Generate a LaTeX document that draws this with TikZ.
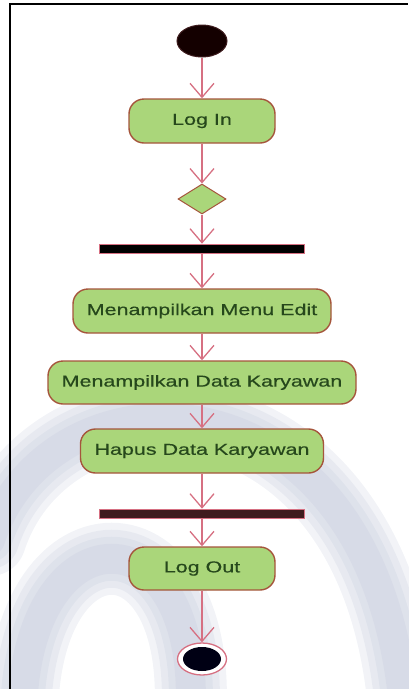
\documentclass[tikz,border=0pt]{standalone}
\usepackage{fontspec}
\newfontfamily\actfont[FakeStretch=1.36, FakeBold=0.4]{Liberation Sans}
\usepackage{xcolor}
\definecolor{colAct}{RGB}{170,214,122}
\definecolor{colActLine}{RGB}{165,85,60}
\definecolor{colFlow}{RGB}{214,112,130}
\definecolor{colText}{RGB}{38,72,28}
\definecolor{colBar}{RGB}{62,28,30}
\definecolor{colMark}{RGB}{188,195,214}
\usetikzlibrary{arrows.meta, positioning, shapes.geometric}

\begin{document}
\begin{tikzpicture}[x=1pt, y=-1pt,
	act/.style={draw=colActLine, line width=1.4pt, fill=colAct, rounded corners=15pt,
		minimum height=44pt, inner sep=0pt, text=colText,
		font=\actfont\fontsize{15.8}{18}\selectfont},
	forkbar/.style={fill=black, draw=colFlow, line width=0.6pt, minimum width=205pt,
		minimum height=9pt, inner sep=0pt},
	flow/.style={draw=colFlow, line width=1.6pt,
		-{Straight Barb[length=14pt, width=24pt, line width=1.3pt]}},
	wmband/.style={draw=colMark, line cap=round, opacity=0.2}]
				\useasboundingbox (0,0) rectangle (408,689);
				% watermark behind the flow
				\foreach \w in {72,58,44,30} {
					\draw[wmband, line width=\w pt] (-10,540) .. controls (50,355) and (380,355) .. (405,720);
					\draw[wmband, line width=\w pt] (22,720) .. controls (22,505) and (205,505) .. (190,720);
				}
				% frame
				\draw[line width=2.5pt] (9.8,689) -- (9.8,4) -- (408,4);
				% activity nodes
				\node[ellipse, fill=black!92!red, draw=colBar, line width=1pt, minimum width=50pt,
					minimum height=32pt, inner sep=0pt] (start) at (202,41) {};
				\node[act, minimum width=146pt] (login) at (202,121) {Log In};
				\node[diamond, draw=colActLine, fill=colAct, line width=1pt, minimum width=48pt,
					minimum height=30pt, inner sep=0pt] (choice) at (202,199) {};
				\node[forkbar] (forkA) at (202,248.5) {};
				\node[act, minimum width=258pt] (menu) at (202,311) {Menampilkan Menu Edit};
				\node[act, minimum width=308pt, minimum height=43pt] (data) at (202,382.5) {Menampilkan Data Karyawan};
				\node[act, minimum width=243pt] (hapus) at (202,451) {Hapus Data Karyawan};
				\node[forkbar, fill=colBar] (forkB) at (202,513.5) {};
				\node[act, minimum width=146pt, minimum height=43pt] (logout) at (202,568.5) {Log Out};
				\node[ellipse, draw=colFlow, fill=white, line width=1.3pt, minimum width=49pt,
					minimum height=32pt, inner sep=0pt] (finish) at (202,659) {};
				\node[ellipse, fill=black!92!blue, minimum width=38pt, minimum height=24pt,
					inner sep=0pt] (finishIn) at (finish) {};
				% transitions
				\draw[flow] (start) -- (login);
				\draw[flow] (login) -- (choice);
				\draw[flow] (choice) -- (forkA);
				\draw[flow] (forkA) -- (menu);
				\draw[flow] (menu) -- (data);
				\draw[flow] (data) -- (hapus);
				\draw[flow] (hapus) -- (forkB);
				\draw[flow] (forkB) -- (logout);
				\draw[flow] (logout) -- (finish);
			\end{tikzpicture}
\end{document}
